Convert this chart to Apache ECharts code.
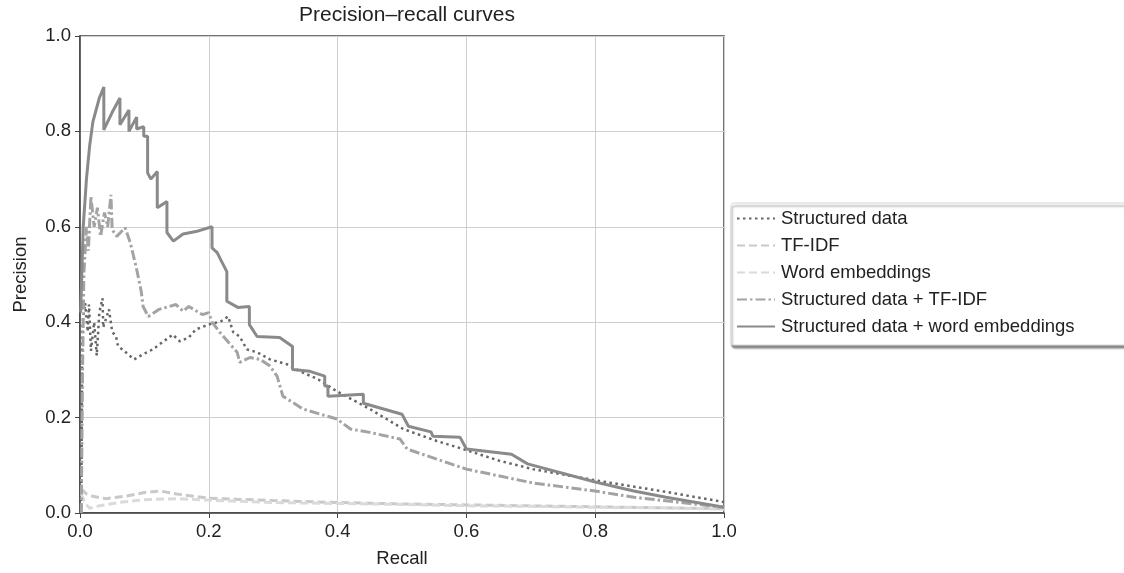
<!DOCTYPE html>
<html>
<head>
<meta charset="utf-8">
<script src="https://cdn.jsdelivr.net/npm/echarts@6/dist/echarts.min.js"></script>
<style>
  html, body { margin: 0; padding: 0; background: #fff; }
  #chart { width: 1124px; height: 573px; }
</style>
</head>
<body>
<div id="chart"></div>
<script>
// axis ticks
const xTicks = [0, 0.2, 0.4, 0.6, 0.8, 1.0]
const yTicks = [0, 0.2, 0.4, 0.6, 0.8, 1.0]

// [recall, precision] pairs
const structured = [
  [0.002, 0.0], [0.003, 0.25], [0.004, 0.40], [0.008, 0.44], [0.012, 0.38], [0.014, 0.437],
  [0.017, 0.34], [0.022, 0.40], [0.026, 0.33], [0.03, 0.42], [0.035, 0.45], [0.036, 0.389],
  [0.045, 0.427], [0.05, 0.38], [0.056, 0.37], [0.059, 0.35], [0.071, 0.337], [0.084, 0.322],
  [0.098, 0.333], [0.113, 0.343], [0.134, 0.364], [0.144, 0.374], [0.155, 0.36], [0.169, 0.368],
  [0.18, 0.385], [0.2, 0.395], [0.219, 0.402], [0.23, 0.412], [0.238, 0.379], [0.248, 0.37],
  [0.259, 0.343], [0.275, 0.337], [0.295, 0.322], [0.321, 0.312], [0.342, 0.297], [0.37, 0.28],
  [0.399, 0.255], [0.45, 0.218], [0.502, 0.176], [0.554, 0.151], [0.595, 0.134], [0.65, 0.11],
  [0.703, 0.092], [0.807, 0.067], [0.911, 0.044], [1.0, 0.023],
]

const tfidf = [
  [0.002, 0.05], [0.01, 0.04], [0.02, 0.035], [0.04, 0.03], [0.07, 0.035], [0.1, 0.043],
  [0.125, 0.046], [0.15, 0.04], [0.2, 0.031], [0.3, 0.026], [0.4, 0.022], [0.5, 0.019],
  [0.6, 0.017], [0.7, 0.015], [0.8, 0.013], [0.9, 0.011], [1.0, 0.009],
]

const wordEmb = [
  [0.002, 0.04], [0.008, 0.02], [0.015, 0.01], [0.03, 0.015], [0.06, 0.022], [0.1, 0.028],
  [0.15, 0.03], [0.2, 0.027], [0.3, 0.022], [0.4, 0.02], [0.5, 0.018], [0.6, 0.015],
  [0.7, 0.014], [0.8, 0.012], [0.9, 0.011], [1.0, 0.008],
]

const structTfidf = [
  [0.002, 0.0], [0.004, 0.3], [0.006, 0.5], [0.01, 0.6], [0.013, 0.55], [0.017, 0.663],
  [0.022, 0.6], [0.027, 0.64], [0.032, 0.58], [0.038, 0.63], [0.043, 0.6], [0.048, 0.667],
  [0.05, 0.594], [0.057, 0.58], [0.07, 0.598], [0.078, 0.567], [0.087, 0.517], [0.092, 0.485],
  [0.095, 0.465], [0.098, 0.433], [0.106, 0.412], [0.123, 0.427], [0.149, 0.437], [0.16, 0.423],
  [0.169, 0.433], [0.19, 0.416], [0.2, 0.42], [0.205, 0.40], [0.217, 0.379], [0.233, 0.354],
  [0.244, 0.337], [0.248, 0.316], [0.264, 0.326], [0.28, 0.322], [0.295, 0.308], [0.306, 0.287],
  [0.315, 0.245], [0.346, 0.218], [0.399, 0.197], [0.42, 0.176], [0.45, 0.169], [0.497, 0.155],
  [0.508, 0.134], [0.554, 0.113], [0.6, 0.092], [0.703, 0.063], [0.8, 0.046], [0.86, 0.033],
  [1.0, 0.012],
]

const structWordEmb = [
  [0.001, 0.42], [0.005, 0.60], [0.01, 0.70], [0.015, 0.77], [0.02, 0.82], [0.03, 0.87],
  [0.037, 0.893], [0.037, 0.803], [0.05, 0.84], [0.062, 0.870], [0.062, 0.814], [0.076, 0.845],
  [0.076, 0.80], [0.088, 0.83], [0.088, 0.805], [0.099, 0.81], [0.099, 0.79], [0.105, 0.79],
  [0.105, 0.713], [0.11, 0.70], [0.12, 0.716], [0.12, 0.64], [0.135, 0.653], [0.135, 0.588],
  [0.145, 0.57], [0.16, 0.585], [0.18, 0.59], [0.205, 0.600], [0.205, 0.556], [0.213, 0.546],
  [0.22, 0.527], [0.228, 0.506], [0.228, 0.444], [0.245, 0.431], [0.263, 0.433], [0.263, 0.395],
  [0.275, 0.37], [0.31, 0.368], [0.33, 0.349], [0.33, 0.301], [0.357, 0.297], [0.38, 0.287],
  [0.38, 0.266], [0.385, 0.266], [0.385, 0.245], [0.44, 0.249], [0.44, 0.23], [0.5, 0.207],
  [0.51, 0.182], [0.545, 0.17], [0.548, 0.161], [0.59, 0.159], [0.6, 0.134], [0.67, 0.123],
  [0.695, 0.103], [0.8, 0.065], [0.86, 0.046], [0.91, 0.033], [1.0, 0.012],
]

const FONT = '"Liberation Sans", Arial, sans-serif'
const TXT = 18.5

const chart = echarts.init(document.getElementById('chart'), null, { renderer: 'canvas' })

const line = (name, data, color, width, type) => ({
  name,
  type: 'line',
  data,
  showSymbol: false,
  symbol: 'none',
  silent: true,
  animation: false,
  lineStyle: { color, width, type, cap: 'butt' },
  itemStyle: { color },
})

chart.setOption({
  animation: false,
  title: {
    text: 'Precision\u2013recall curves',
    left: 402,
    top: 0,
    textAlign: 'center',
    textStyle: { fontFamily: FONT, fontSize: 21, fontWeight: 'normal', color: '#222' },
  },
  grid: { left: 80, right: 400, top: 36, bottom: 59, show: true, borderColor: '#444', borderWidth: 1.5 },
  legend: {
    orient: 'vertical',
    left: 731,
    top: 203,
    itemWidth: 38,
    itemHeight: 14,
    itemGap: 8,
    padding: [6, 100, 9, 5],
    backgroundColor: '#fff',
    borderColor: '#d6d6d6',
    borderWidth: 1,
    borderRadius: 3,
    shadowColor: 'rgba(0,0,0,0.45)',
    shadowBlur: 2,
    shadowOffsetX: 1,
    shadowOffsetY: 3,
    itemStyle: { opacity: 0, color: 'transparent', borderWidth: 0 },
    textStyle: { fontFamily: FONT, fontSize: TXT, color: '#222', padding: [0, 0, 0, 1] },
    data: ['Structured data', 'TF-IDF', 'Word embeddings', 'Structured data + TF-IDF', 'Structured data + word embeddings'],
  },
  xAxis: {
    type: 'value',
    min: 0,
    max: 1,
    interval: 0.2,
    name: 'Recall',
    nameLocation: 'middle',
    nameGap: 36,
    nameTextStyle: { fontFamily: FONT, fontSize: TXT, color: '#222' },
    axisLine: { lineStyle: { color: '#444', width: 1.5 } },
    axisTick: { show: true, length: 5, lineStyle: { color: '#444' } },
    axisLabel: { fontFamily: FONT, fontSize: TXT, color: '#222', margin: 9, formatter: (v) => v.toFixed(1) },
    splitLine: { show: true, lineStyle: { color: '#cfcfcf', width: 1 } },
  },
  yAxis: {
    type: 'value',
    min: 0,
    max: 1,
    interval: 0.2,
    name: 'Precision',
    nameLocation: 'middle',
    nameGap: 50,
    nameRotate: 90,
    nameTextStyle: { fontFamily: FONT, fontSize: TXT, color: '#222' },
    axisLine: { lineStyle: { color: '#444', width: 1.5 } },
    axisTick: { show: true, length: 5, lineStyle: { color: '#444' } },
    axisLabel: { fontFamily: FONT, fontSize: TXT, color: '#222', margin: 9, formatter: (v) => v.toFixed(1) },
    splitLine: { show: true, lineStyle: { color: '#cfcfcf', width: 1 } },
  },
  series: [
    line('Structured data', structured, '#666666', 2.5, [2.5, 3.5]),
    line('TF-IDF', tfidf, '#c9c9c9', 3, [8, 4]),
    line('Word embeddings', wordEmb, '#dadada', 3, [8, 4]),
    line('Structured data + TF-IDF', structTfidf, '#a3a3a3', 3, [10, 3, 2.5, 3]),
    line('Structured data + word embeddings', structWordEmb, '#8a8a8a', 3, 'solid'),
  ],
})
</script>
</body>
</html>
